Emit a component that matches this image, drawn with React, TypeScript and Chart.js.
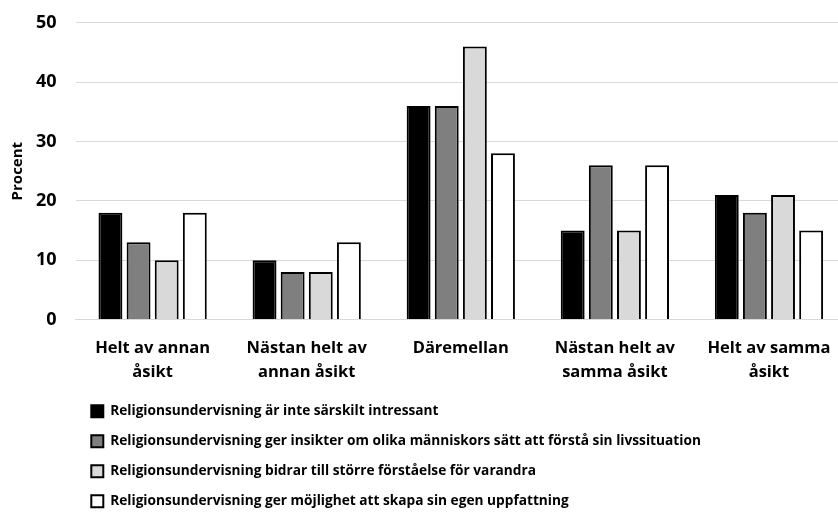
import React, { useEffect, useRef } from "react";
import { Chart, registerables } from "chart.js";

Chart.register(...registerables);

const categories: string[][] = [
  ["Helt av annan", "åsikt"],
  ["Nästan helt av", "annan åsikt"],
  ["Däremellan"],
  ["Nästan helt av", "samma åsikt"],
  ["Helt av samma", "åsikt"],
];

const seriesNames = [
  "Religionsundervisning är inte särskilt intressant",
  "Religionsundervisning ger insikter om olika människors sätt att förstå sin livssituation",
  "Religionsundervisning bidrar till större förståelse för varandra",
  "Religionsundervisning ger möjlighet att skapa sin egen uppfattning",
];

const inteIntressant = [18, 10, 36, 15, 21];
const insikter = [13, 8, 36, 26, 18];
const forstaelse = [10, 8, 46, 15, 21];
const uppfattning = [18, 13, 28, 26, 15];

const fills = ["#000000", "#7f7f7f", "#d9d9d9", "#ffffff"];

const FONT = "'Open Sans', 'DejaVu Sans', sans-serif";

export default function App() {
  const ref = useRef<HTMLCanvasElement | null>(null);

  useEffect(() => {
    document.body.style.margin = "0";
    const ctx = ref.current;
    if (!ctx) return;
    const values = [inteIntressant, insikter, forstaelse, uppfattning];
    const adjustLayout = {
      id: "adjustLayout",
      afterLayout(chart: any) {
        if (chart.legend) {
          chart.legend.left = 75;
          chart.legend.top -= 5;
        }
        const extra = 8;
        const xs = chart.scales.x;
        if (xs) {
          xs.right += extra;
          xs.width += extra;
          if (xs.configure) xs.configure();
        }
        chart.chartArea.right += extra;
        chart.chartArea.width += extra;
      },
    };
    const chart = new Chart(ctx, {
      type: "bar",
      data: {
        labels: categories,
        datasets: values.map((v, i) => ({
          label: seriesNames[i],
          data: v,
          backgroundColor: fills[i],
          borderColor: "#000000",
          borderWidth: 2,
          categoryPercentage: 0.73,
          barPercentage: 0.85,
        })),
      },
      options: {
        animation: false,
        responsive: false,
        maintainAspectRatio: false,
        layout: { padding: { top: 0, right: 0, left: 9, bottom: 2 } },
        plugins: {
          tooltip: { enabled: false },
          legend: {
            position: "bottom",
            align: "start",
            labels: {
              boxWidth: 12,
              boxHeight: 12,
              padding: 16.3,
              color: "#000000",
              font: { family: FONT, size: 13.7, weight: "bold" },
            },
          },
        },
        scales: {
          x: {
            grid: { display: false },
            border: { display: true, color: "#d9d9d9", width: 1 },
            ticks: {
              color: "#000000",
              maxRotation: 0,
              autoSkip: false,
              padding: 8,
              font: { family: FONT, size: 16.5, weight: "bold", lineHeight: 1.5 },
            },
          },
          y: {
            min: 0,
            max: 50,
            afterFit(scale: any) {
              scale.width -= 10;
              scale.paddingTop -= 7;
            },
            ticks: {
              stepSize: 10,
              color: "#000000",
              padding: 19,
              font: { family: FONT, size: 18, weight: "bold" },
            },
            grid: { color: "#d9d9d9", lineWidth: 1, drawTicks: false, tickLength: 0 },
            border: { display: false },
            title: {
              display: true,
              text: "Procent",
              color: "#000000",
              padding: { top: 0, bottom: 0 },
              font: { family: FONT, size: 15, weight: "bold" },
            },
          },
        },
      },
      plugins: [adjustLayout],
    });
    return () => chart.destroy();
  }, []);

  return (
    <div style={{ width: 838, height: 525, background: "#fff" }}>
      <canvas ref={ref} width={838} height={525} style={{ display: "block" }} />
    </div>
  );
}
